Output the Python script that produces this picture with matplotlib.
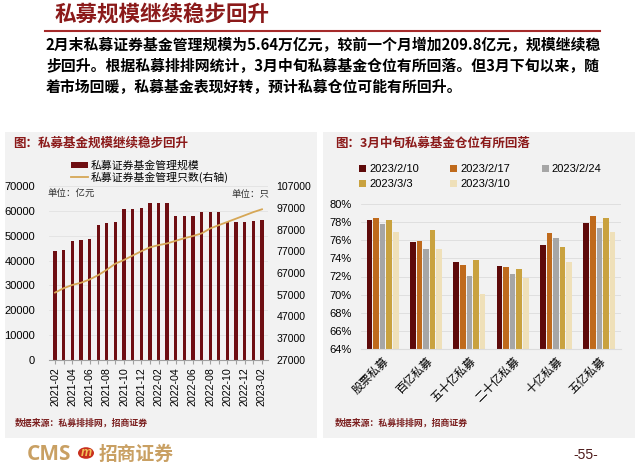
import matplotlib
matplotlib.use('Agg')
import matplotlib.pyplot as plt
from matplotlib.patches import Rectangle, Circle
from matplotlib.lines import Line2D
import numpy as np

plt.rcParams['font.family'] = ['Liberation Sans', 'Noto Sans CJK SC', 'DejaVu Sans']
CJK = ['Noto Sans CJK SC', 'DejaVu Sans']

# ---- data: left chart (private fund AUM + fund count)
months = ['2021-02', '2021-03', '2021-04', '2021-05', '2021-06', '2021-07', '2021-08',
          '2021-09', '2021-10', '2021-11', '2021-12', '2022-01', '2022-02', '2022-03',
          '2022-04', '2022-05', '2022-06', '2022-07', '2022-08', '2022-09', '2022-10',
          '2022-11', '2022-12', '2023-01', '2023-02']
aum = [44000, 44400, 47900, 48300, 48500, 54400, 55100, 55700, 60700, 60900, 61200,
       63200, 63200, 63200, 57900, 57900, 57800, 59700, 59700, 59600, 55500, 55600,
       55500, 56000, 56400]
fund_count = [58000, 60000, 61500, 62500, 64000, 66000, 68500, 71300, 73000, 75000,
              77000, 78800, 79800, 80600, 81800, 83000, 84000, 85200, 87500, 89000,
              90500, 92000, 93500, 95000, 96300]

# ---- data: right chart (private fund positions)
categories = ['股票私募', '百亿私募', '五十亿私募', '二十亿私募', '十亿私募', '五亿私募']
dates = ['2023/2/10', '2023/2/17', '2023/2/24', '2023/3/3', '2023/3/10']
pos_0210 = [78.2, 75.8, 73.6, 73.2, 75.5, 77.9]
pos_0217 = [78.5, 75.9, 73.3, 73.0, 76.8, 78.7]
pos_0224 = [77.8, 75.0, 72.1, 72.3, 76.3, 77.3]
pos_0303 = [78.2, 77.1, 73.8, 72.8, 75.3, 78.5]
pos_0310 = [76.9, 75.0, 70.1, 71.8, 73.6, 76.9]
positions = [pos_0210, pos_0217, pos_0224, pos_0303, pos_0310]
pos_colors = ['#5E0A0A', '#BF6A1C', '#A6A6A6', '#C9A23F', '#EFE0B9']

W, H = 640, 463
RED = '#8B1A1A'
GOLD = '#C9A063'

def rect(l, t, r, b):
    return [l / W, 1 - b / H, (r - l) / W, (b - t) / H]

def fx(x):
    return x / W

def fy(y):
    return 1 - y / H

fig = plt.figure(figsize=(6.4, 4.63), dpi=100)
fig.patch.set_facecolor('white')

# header
fig.text(fx(55), fy(15), '私募规模继续稳步回升', fontsize=15.5, color=RED,
         fontweight='bold', family=CJK, va='center')
fig.add_artist(Line2D([fx(45), fx(600)], [fy(31), fy(31)], color='#A52A2A', lw=1.5))
para = ['2月末私募证券基金管理规模为5.64万亿元，较前一个月增加209.8亿元，规模继续稳',
        '步回升。根据私募排排网统计，3月中旬私募基金仓位有所回落。但3月下旬以来，随',
        '着市场回暖，私募基金表现好转，预计私募仓位可能有所回升。']
for i, line in enumerate(para):
    fig.text(fx(46), fy(45 + 21 * i), line, fontsize=10.7, color='black',
             family=CJK, va='center', fontweight='bold')

# panels
for l, r in [(5, 317), (323, 635)]:
    fig.add_artist(Rectangle((fx(l), fy(438)), (r - l) / W, (438 - 132) / H,
                             transform=fig.transFigure, facecolor='#F2F2F2',
                             edgecolor='none', zorder=0))

# ---------------- left chart
ax = fig.add_axes(rect(49, 186, 268, 360))
ax.set_facecolor('none')
x = np.arange(len(months))
ax.bar(x, aum, width=0.38, color='#6E0E12', label='私募证券基金管理规模', zorder=2)
ax.set_xlim(-0.7, len(months) - 0.3)
ax.set_ylim(0, 70000)
ax.set_yticks(range(0, 70001, 10000))
ax.grid(axis='y', color='#E2E2E2', lw=0.6, zorder=0)
for s in ['top', 'left', 'right']:
    ax.spines[s].set_visible(False)
ax.spines['bottom'].set_color('#A0A0A0')
ax.set_xticks(x)
ax.set_xticklabels([m if i % 2 == 0 else '' for i, m in enumerate(months)],
                   rotation=90, fontsize=7.7)
ax.tick_params(axis='x', length=3, color='#A0A0A0', pad=2)
ax.tick_params(axis='y', length=0, pad=10, labelsize=8)

ax2 = ax.twinx()
ax2.plot(x, fund_count, color='#D6A756', lw=1.3, label='私募证券基金管理只数(右轴)')
ax2.set_ylim(27000, 107000)
ax2.set_yticks(range(27000, 107001, 10000))
ax2.tick_params(axis='y', length=0, pad=6, labelsize=7.6)
for s in ax2.spines.values():
    s.set_visible(False)

h1, l1 = ax.get_legend_handles_labels()
h2, l2 = ax2.get_legend_handles_labels()
fig.legend(h1 + h2, l1 + l2, loc='upper left', bbox_to_anchor=(fx(71), fy(160)),
           frameon=False, prop={'family': CJK, 'size': 7.8}, handlelength=1.6,
           handleheight=0.5, handletextpad=0.2, labelspacing=0.1, borderpad=0,
           borderaxespad=0)

fig.text(fx(13), fy(143), '图：私募基金规模继续稳步回升', fontsize=9, color=RED,
         family=CJK, va='center', fontweight='bold')
fig.text(fx(47), fy(194), '单位：亿元', fontsize=6.8, color='#333333', family=CJK, va='center')
fig.text(fx(232), fy(194), '单位：只', fontsize=6.8, color='#333333', family=CJK, va='center')
fig.text(fx(15), fy(423), '数据来源：私募排排网，招商证券', fontsize=6.4, color='#7B1F1F',
         family=CJK, va='center', fontweight='bold')

# ---------------- right chart
bx = fig.add_axes(rect(361, 204, 621, 349))
bx.set_facecolor('none')
gx = np.arange(len(categories))
step = 0.153
for k, (vals, lab, c) in enumerate(zip(positions, dates, pos_colors)):
    bx.bar(gx + (k - 2) * step, vals, width=0.13, color=c, label=lab, zorder=2)
bx.set_xlim(-0.5, len(categories) - 0.5)
bx.set_ylim(64, 80)
bx.set_yticks(range(64, 81, 2))
bx.set_yticklabels(['%d%%' % v for v in range(64, 81, 2)])
bx.grid(axis='y', color='#DCDCDC', lw=0.6, zorder=0)
for s in ['top', 'left', 'right']:
    bx.spines[s].set_visible(False)
bx.spines['bottom'].set_color('#DCDCDC')
bx.set_xticks(gx)
bx.set_xticklabels(categories, rotation=45, ha='right', va='top',
                   rotation_mode='anchor', family=CJK, fontsize=8.3)
bx.tick_params(axis='x', length=0, pad=4)
bx.tick_params(axis='y', length=0, pad=7, labelsize=8)

hb, lb = bx.get_legend_handles_labels()
order = [0, 3, 1, 4, 2]
fig.legend([hb[i] for i in order], [lb[i] for i in order], loc='upper left',
           bbox_to_anchor=(fx(359), fy(164)), ncol=3, frameon=False,
           prop={'size': 8}, handlelength=0.6, handleheight=0.6,
           handletextpad=0.3, columnspacing=2.85, labelspacing=0.45,
           borderpad=0, borderaxespad=0)

fig.text(fx(335), fy(143), '图：3月中旬私募基金仓位有所回落', fontsize=9, color=RED,
         family=CJK, va='center', fontweight='bold')
fig.text(fx(335), fy(423), '数据来源：私募排排网，招商证券', fontsize=6.4, color='#7B1F1F',
         family=CJK, va='center', fontweight='bold')

# footer
fig.text(fx(27), fy(454), 'CMS', fontsize=15, color=GOLD, fontweight='bold',
         family=['Open Sans', 'DejaVu Sans'], va='center')
fig.add_artist(Circle((fx(86), fy(453)), 8 / W, transform=fig.transFigure,
                      facecolor='#C8301E', edgecolor='none'))
fig.text(fx(86), fy(453), 'm', fontsize=9, color='#F2C35A', fontweight='bold',
         ha='center', va='center', style='italic')
fig.text(fx(99), fy(454), '招商证券', fontsize=13.5, color=GOLD, family=CJK,
         va='center', fontweight='bold')
fig.text(fx(573), fy(455), '-55-', fontsize=10, color='#4D1A1A', va='center')

fig.savefig('out.png', dpi=100)
